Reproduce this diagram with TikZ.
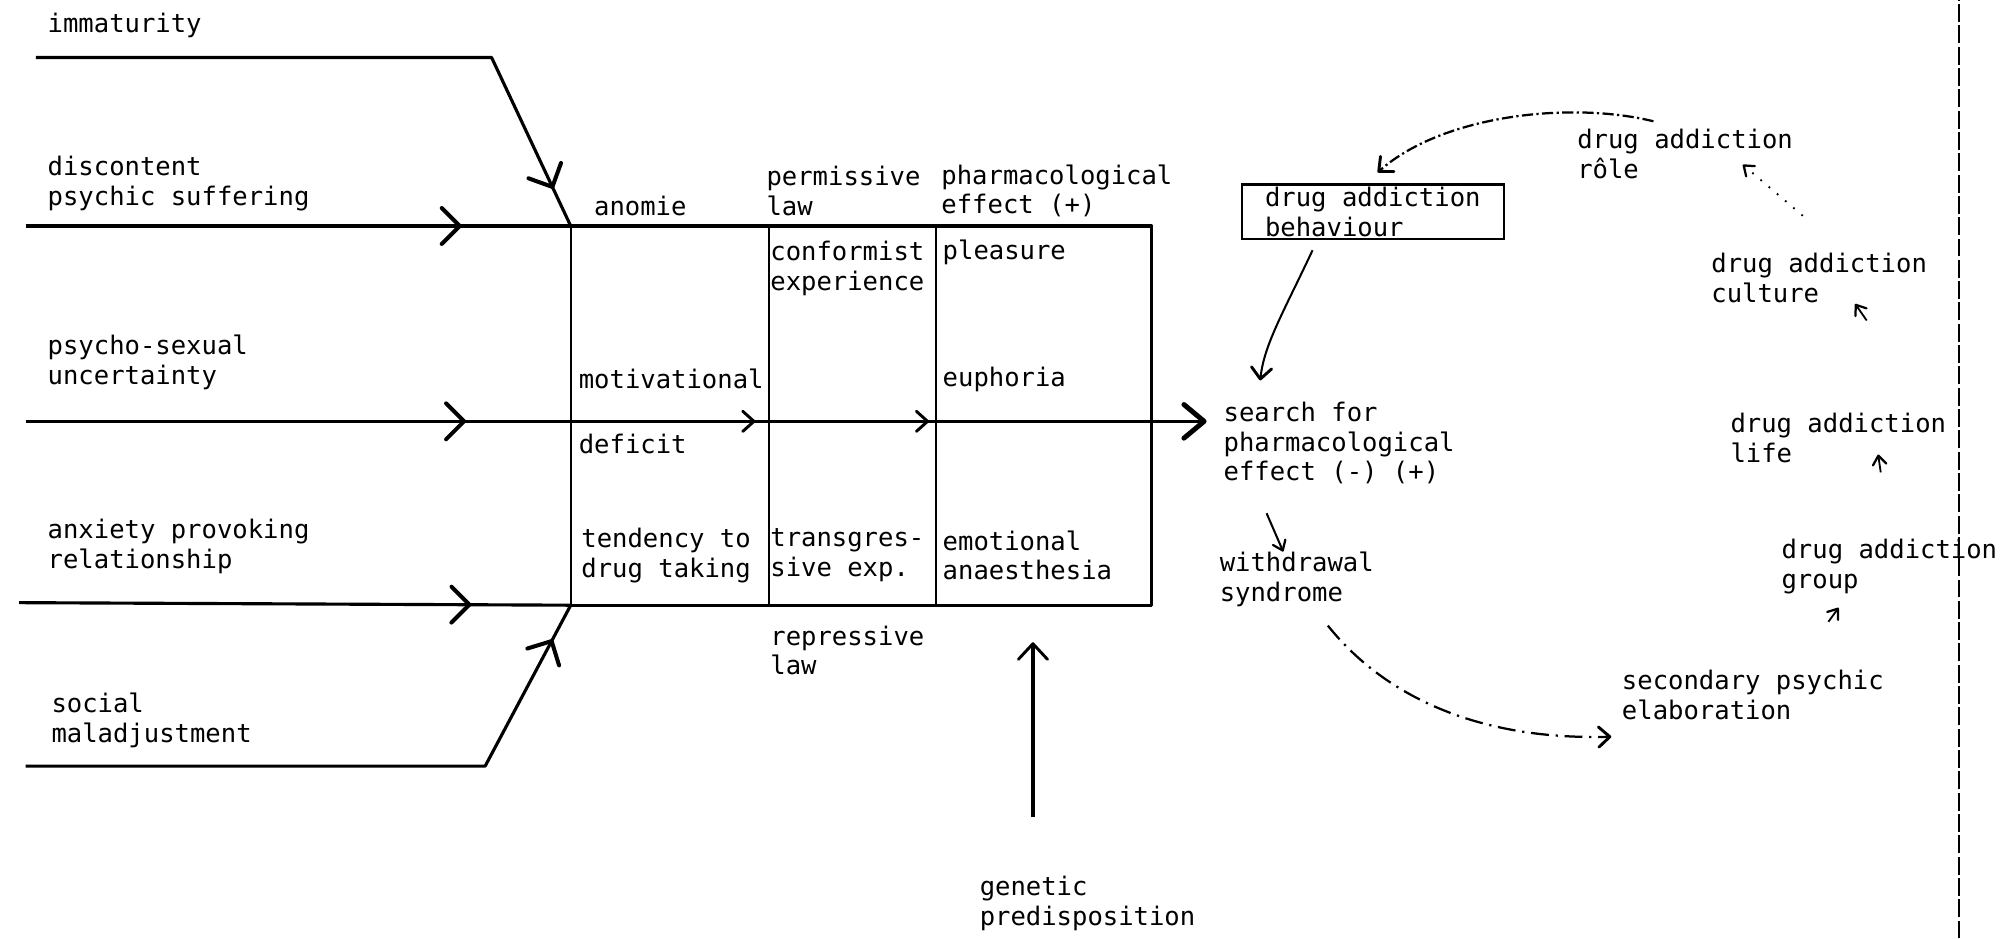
\documentclass[tikz,border=0pt]{standalone}
\usepackage{fontspec}
\setmonofont{DejaVu Sans Mono}
\usetikzlibrary{arrows.meta,decorations.markings}

\begin{document}
\begin{tikzpicture}[x=0.02cm,y=0.02cm,
	every node/.style={font=\ttfamily\fontsize{11.4}{13.3}\selectfont,
		inner sep=0pt,anchor=west,align=left},
	bigtip/.tip={Straight Barb[round,length=8pt,width=16pt,line width=1.8pt]},
	endtip/.tip={Straight Barb[round,length=9pt,width=15pt,line width=2.2pt]},
	uptip/.tip={Straight Barb[round,length=7pt,width=13pt,line width=1.3pt]},
	smalltip/.tip={Straight Barb[round,length=5pt,width=9pt,line width=1.3pt]},
	tinytip/.tip={Straight Barb[round,length=4pt,width=6pt,line width=1pt]},
	main/.style={line width=1.4pt,line join=round},
	cell/.style={line width=1pt},
	midarr/.style={postaction={decorate},
		decoration={markings,mark=at position #1 with {\arrow{bigtip}}}}
	]
	\useasboundingbox (0,0) rectangle (1568,735);

	% Causes on the left
	\node (immat) at (37,715) {immaturity};
	\node (discont) at (37,591.5) {discontent\\psychic suffering};
	\node (psycho) at (37,451.5) {psycho-sexual\\uncertainty};
	\node (anxiety) at (37,307) {anxiety provoking\\relationship};
	\node (social) at (40,171) {social\\maladjustment};

	\coordinate (im0) at (28,690);
	\coordinate (im1) at (385,690);
	\coordinate (ds0) at (20,558);
	\coordinate (ps0) at (20,405);
	\coordinate (ps1) at (945,405);
	\coordinate (ax0) at (15,263);
	\coordinate (so0) at (20,135);
	\coordinate (so1) at (380,135);

	% Table corners
	\coordinate (tl) at (447,558);
	\coordinate (tr) at (902,558);
	\coordinate (br) at (902,261);
	\coordinate (bl) at (447,261);
	\coordinate (c1t) at (602,558);
	\coordinate (c1b) at (602,261);
	\coordinate (c2t) at (733,558);
	\coordinate (c2b) at (733,261);

	\draw[main,midarr=0.936] (im0) -- (im1) -- (tl);
	\draw[main,midarr=0.80] (ds0) -- (tl);
	\draw[main,midarr=0.82] (ax0) -- (bl);
	\draw[main,midarr=0.94] (so0) -- (so1) -- (bl);
	\draw[main,-endtip,postaction={decorate},
		decoration={markings,
			mark=at position 0.373 with {\arrow{bigtip}},
			mark=at position 0.618 with {\arrow{smalltip}},
			mark=at position 0.765 with {\arrow{smalltip}}}]
		(ps0) -- (ps1);

	% Table
	\draw[main] (tl) -- (tr) -- (br) -- (bl);
	\draw[cell] (tl) -- (bl);
	\draw[cell] (c1t) -- (c1b);
	\draw[cell] (c2t) -- (c2b);

	\node (anomie) at (465,574) {anomie};
	\node (permis) at (600,585.5) {permissive\\law};
	\node (pharma) at (737,585.5) {pharmacological\\effect (+)};
	\node (conform) at (603,525) {conformist\\experience};
	\node (pleasure) at (738,537) {pleasure};
	\node (motiv) at (453,438) {motivational};
	\node (euphor) at (738,438) {euphoria};
	\node (deficit) at (453,387) {deficit};
	\node (tend) at (455,300) {tendency to\\drug taking};
	\node (transg) at (603,300) {transgres-\\sive exp.};
	\node (emot) at (738,300) {emotional\\anaesthesia};
	\node (repress) at (603,225.5) {repressive\\law};

	% Genetic predisposition
	\node (genetic) at (767,27.5) {genetic\\predisposition};
	\coordinate (gen0) at (809,95);
	\coordinate (gen1) at (809,232);
	\draw[main,-uptip] (gen0) -- (gen1);

	% Right part
	\node (search) at (958,388) {search for\\pharmacological\\effect (-) (+)};
	\node (withdr) at (955,281) {withdrawal\\syndrome};
	\node[draw,line width=0.9pt,inner xsep=0.36cm,minimum height=0.86cm] (behav)
		at (972,569) {drug addiction\\behaviour};
	\node (role) at (1235,614.5) {drug addiction\\rôle};
	\node (culture) at (1340,517) {drug addiction\\culture};
	\node (life) at (1355,392) {drug addiction\\life};
	\node (group) at (1395,291) {drug addiction\\group};
	\node (second) at (1270,191) {secondary psychic\\elaboration};

	\coordinate (bh0) at (1028,539);
	\coordinate (bh1) at (987,437);
	\draw[line width=0.9pt,-smalltip] (bh0) .. controls (1005,490) and (990,465) .. (bh1);

	\coordinate (wa0) at (992,333);
	\coordinate (wa1) at (1005,303);
	\draw[line width=0.9pt,-tinytip] (wa0) -- (wa1);

	\coordinate (wd0) at (1040,245);
	\coordinate (wd1) at (1262,158);
	\draw[line width=1pt,dash pattern=on 8pt off 3pt on 1pt off 3pt,-smalltip]
		(wd0) .. controls (1080,195) and (1150,155) .. (wd1);

	\coordinate (ro0) at (1295,640);
	\coordinate (ro1) at (1079,600);
	\draw[line width=1pt,dash pattern=on 5pt off 1.5pt on 1pt off 1.5pt,-smalltip]
		(ro0) .. controls (1230,656) and (1130,645) .. (ro1);

	% Remains of the outer circle
	\coordinate (gr0) at (1432,248);
	\coordinate (gr1) at (1440,259);
	\coordinate (li0) at (1473,365);
	\coordinate (li1) at (1471,379);
	\coordinate (cu0) at (1462,484);
	\coordinate (cu1) at (1453,497);
	\coordinate (rl0) at (1412,566);
	\coordinate (rl1) at (1365,606);
	\draw[line width=0.8pt,-tinytip] (gr0) -- (gr1);
	\draw[line width=0.8pt,-tinytip] (li0) -- (li1);
	\draw[line width=0.8pt,-tinytip] (cu0) -- (cu1);
	\draw[line width=0.8pt,loosely dotted,-tinytip] (rl0) -- (rl1);

	% Page edge
	\coordinate (edge0) at (1534,0);
	\coordinate (edge1) at (1534,735);
	\draw[line width=0.9pt,dash pattern=on 8pt off 1.5pt] (edge0) -- (edge1);
\end{tikzpicture}
\end{document}
